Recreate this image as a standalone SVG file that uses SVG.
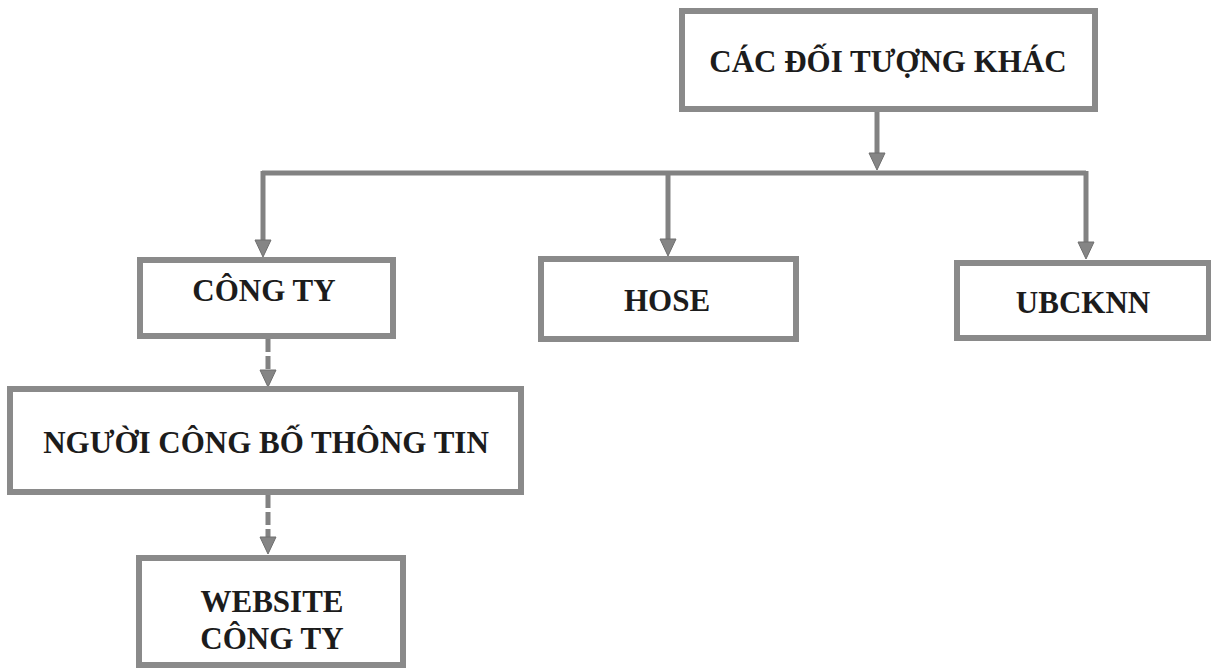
<svg xmlns="http://www.w3.org/2000/svg" width="1211" height="669" viewBox="0 0 1211 669">
  <defs>
    <path id="head" d="M-8,-17 L8,-17 L0,0 Z" fill="#858585" stroke="#6e6e6e" stroke-width="1"/>
  </defs>
  <style>
    .box { fill: #ffffff; stroke: #8a8a8a; stroke-width: 6; }
    .lbl { font-family: "Liberation Serif", "Times New Roman", serif; font-weight: bold; font-size: 31px; fill: #1c1c1c; text-anchor: middle; }
    .conn { fill: none; stroke: #828282; stroke-width: 5; }
    .dash { stroke-dasharray: 13 4; }
  </style>
  <rect width="1211" height="669" fill="#ffffff"/>

  <g id="connectors">
    <path class="conn" d="M877,112 V156"/>
    <use href="#head" x="877" y="170"/>
    <path class="conn" d="M262,173 H1086"/>
    <path class="conn" d="M263,171 V242"/>
    <use href="#head" x="263" y="257"/>
    <path class="conn" d="M668,173 V241"/>
    <use href="#head" x="668" y="256"/>
    <path class="conn" d="M1086,171 V244"/>
    <use href="#head" x="1086" y="259"/>
    <path class="conn dash" d="M268,339 V372"/>
    <use href="#head" x="268" y="387"/>
    <path class="conn dash" d="M268,495 V537"/>
    <use href="#head" x="268" y="554"/>
  </g>

  <g id="node-cac-doi-tuong-khac">
    <rect class="box" x="682" y="11" width="413" height="98"/>
    <text class="lbl" x="888" y="72">CÁC ĐỐI TƯỢNG KHÁC</text>
  </g>
  <g id="node-cong-ty">
    <rect class="box" x="140" y="260" width="253" height="76"/>
    <text class="lbl" x="264" y="301">CÔNG TY</text>
  </g>
  <g id="node-hose">
    <rect class="box" x="541" y="259" width="255" height="80"/>
    <text class="lbl" x="667" y="311">HOSE</text>
  </g>
  <g id="node-ubcknn">
    <rect class="box" x="957" y="263" width="252" height="75"/>
    <text class="lbl" x="1083" y="313">UBCKNN</text>
  </g>
  <g id="node-nguoi-cong-bo">
    <rect class="box" x="10" y="389" width="511" height="103"/>
    <text class="lbl" x="266" y="453">NGƯỜI CÔNG BỐ THÔNG TIN</text>
  </g>
  <g id="node-website">
    <rect class="box" x="139" y="558" width="264" height="107"/>
    <text class="lbl" x="272" y="612">WEBSITE</text>
    <text class="lbl" x="272" y="649">CÔNG TY</text>
  </g>
</svg>
